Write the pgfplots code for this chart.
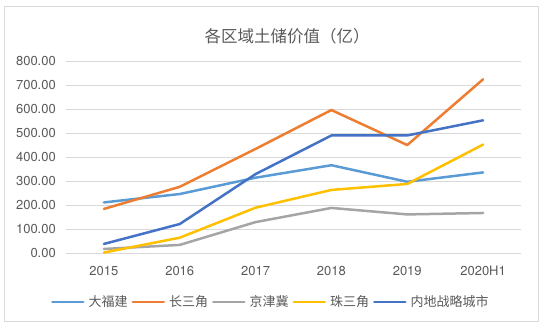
\documentclass[border=0pt]{standalone}
\usepackage{fontspec}
\setmainfont{TeX Gyre Heros}
\newfontfamily\cjk{Noto Sans CJK SC}
\usepackage{pgfplots}
\pgfplotsset{compat=1.18}
\definecolor{c1}{HTML}{5B9BD5}
\definecolor{c2}{HTML}{ED7D31}
\definecolor{c3}{HTML}{A5A5A5}
\definecolor{c4}{HTML}{FFC000}
\definecolor{c5}{HTML}{4472C4}
\definecolor{txt}{HTML}{595959}
\definecolor{gridc}{HTML}{D9D9D9}
\begin{document}
\begin{tikzpicture}
\useasboundingbox (0pt,0pt) rectangle (550pt,332pt);
\draw[color=gridc, line width=1pt] (4pt,10pt) rectangle (538pt,325pt);
\node[text=txt, font=\cjk\fontsize{16.5}{16.5}\selectfont] at (287pt,296pt) {各区域土储价值（亿）};
\begin{axis}[
  at={(66pt,78.7pt)}, anchor=south west,
  scale only axis, width=455pt, height=192pt,
  xmin=-0.5, xmax=5.5, ymin=0, ymax=800,
  ytick={0,100,...,800},
  xtick={0,1,2,3,4,5},
  xticklabels={2015,2016,2017,2018,2019,2020H1},
  axis line style={draw=none},
  major tick length=0pt,
  ymajorgrids, grid style={color=gridc, line width=1pt},
  /pgf/number format/assume math mode=true,
  yticklabel style={anchor=east, inner sep=0pt, xshift=-10pt, text=txt, font=\fontsize{13}{13}\selectfont,
    /pgf/number format/fixed, /pgf/number format/fixed zerofill, /pgf/number format/precision=2},
  xticklabel style={anchor=north, inner sep=0pt, yshift=-13pt, text=txt, font=\fontsize{13}{13}\selectfont},
  every axis plot/.append style={line width=2.5pt, line join=round, line cap=round, no markers},
  legend columns=5,
  legend image code/.code={\draw[#1] (0pt,0pt) -- (31pt,0pt);},
  legend style={draw=none, fill=none, at={(0.448,-0.2536)}, anchor=center,
    font=\cjk\fontsize{13}{13}\selectfont, text=txt,
    nodes={inner sep=0pt},
    /tikz/every odd column/.style={column sep=4pt},
    /tikz/every even column/.style={column sep=4pt}},
]
\addplot[c1] coordinates {(0,212) (1,247) (2,315) (3,367) (4,298) (5,337)};
\addlegendentry{大福建}
\addplot[c2] coordinates {(0,185) (1,277) (2,435) (3,597) (4,451) (5,725)};
\addlegendentry{长三角}
\addplot[c3] coordinates {(0,18) (1,35) (2,130) (3,189) (4,162) (5,168)};
\addlegendentry{京津冀}
\addplot[c4] coordinates {(0,3) (1,65) (2,190) (3,264) (4,289) (5,453)};
\addlegendentry{珠三角}
\addplot[c5] coordinates {(0,39) (1,122) (2,330) (3,491) (4,491) (5,554)};
\addlegendentry{内地战略城市}
\end{axis}
\end{tikzpicture}
\end{document}
